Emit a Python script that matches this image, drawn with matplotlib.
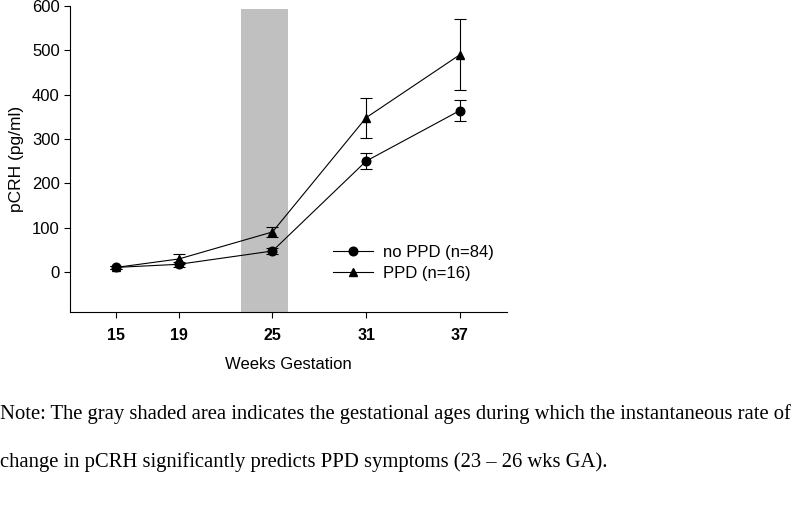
import matplotlib
matplotlib.use("Agg")
import matplotlib.pyplot as plt

weeks = [15, 19, 25, 31, 37]
no_ppd = [10, 17, 47, 250, 364]
no_ppd_err = [3, 5, 6, 18, 24]
ppd = [10, 29, 90, 348, 490]
ppd_err = [3, 11, 11, 45, 80]
shade_start, shade_end = 23, 26
yticks = [0, 100, 200, 300, 400, 500, 600]
note1 = "Note: The gray shaded area indicates the gestational ages during which the instantaneous rate of"
note2 = "change in pCRH significantly predicts PPD symptoms (23 \u2013 26 wks GA)."

plt.rcParams['font.family'] = ['Liberation Sans', 'DejaVu Sans']

fig = plt.figure(figsize=(8, 5.22), dpi=100)
ax = fig.add_axes([69.5/800, 1-311.7/522, (506.7-69.5)/800, (311.7-6)/522])

ax.axvspan(shade_start, shade_end, ymin=0, ymax=(593+90)/690, color='#c0c0c0', lw=0, zorder=0)

ax.errorbar(weeks, no_ppd, yerr=no_ppd_err, color='black', lw=0.8, marker='o', ms=6.2,
            capsize=4, elinewidth=0.8, capthick=0.8, label='no PPD (n=84)', zorder=3)
ax.errorbar(weeks, ppd, yerr=ppd_err, color='black', lw=0.8, marker='^', ms=6.2,
            capsize=4, elinewidth=0.8, capthick=0.8, label='PPD (n=16)', zorder=3)

ax.set_xlim(12, 40)
ax.set_ylim(-90, 600)
ax.set_xticks(weeks)
ax.set_xticklabels([str(w) for w in weeks], fontweight='bold', fontsize=11.5)
ax.set_yticks(yticks)
ax.set_yticklabels([str(v) for v in yticks], fontsize=12)
ax.spines['top'].set_visible(False)
ax.spines['right'].set_visible(False)
for s in ['left', 'bottom']:
    ax.spines[s].set_linewidth(0.8)
ax.tick_params(direction='out', length=4, width=0.8, pad=8)
ax.tick_params(axis='y', pad=3)
ax.set_xlabel('Weeks Gestation', fontsize=12, labelpad=10)
ax.set_ylabel('pCRH (pg/ml)', fontsize=12.5, labelpad=6)

handles, labels = ax.get_legend_handles_labels()
handles = [h[0] for h in handles]
ax.legend(handles, labels, loc='upper left', bbox_to_anchor=((333-69.5)/437.2, (311.7-245)/305.7),
          frameon=False, fontsize=12, handlelength=2.4, handletextpad=0.6,
          labelspacing=0.35, borderaxespad=0, borderpad=0)

fig.text(0.0, 1-419/522, note1, family='Liberation Serif', fontsize=14.9, ha='left', va='baseline')
fig.text(0.0, 1-467/522, note2, family='Liberation Serif', fontsize=14.9, ha='left', va='baseline')

fig.savefig('out.png', dpi=100)
